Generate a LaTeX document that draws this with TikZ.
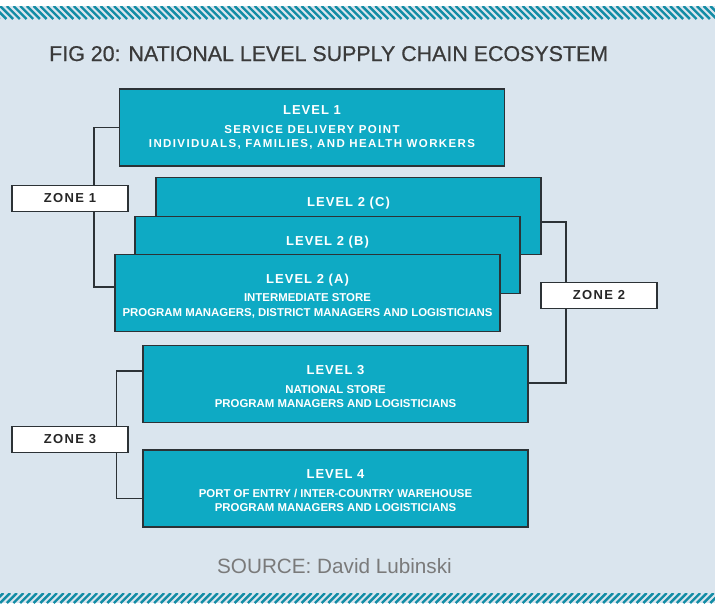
\documentclass[tikz,border=0pt]{standalone}
\usepackage{fontspec}
\setmainfont{Liberation Sans}
\newfontfamily\headfont[LetterSpace=8]{Liberation Sans}
\newfontfamily\widefont[LetterSpace=12]{Liberation Sans}
\newfontfamily\zonefont[LetterSpace=10]{Liberation Sans}
\newfontfamily\titlefont[FakeBold=0.6]{Liberation Sans}
\usetikzlibrary{positioning, calc}

\definecolor{paper}{RGB}{218,229,238}
\definecolor{stripe}{RGB}{18,140,165}
\definecolor{boxcyan}{RGB}{14,170,196}
\definecolor{boxline}{RGB}{44,50,54}
\definecolor{titlegrey}{RGB}{58,58,58}
\definecolor{sourcegrey}{RGB}{122,122,122}

\begin{document}
\begin{tikzpicture}[x=1pt, y=-1pt,
    level/.style={draw=boxline, line width=1.5pt, fill=boxcyan, minimum width=385pt, minimum height=77pt, inner sep=0pt},
    head/.style={text=white, font=\headfont\bfseries\fontsize{13}{15}\selectfont, inner sep=0pt, anchor=base},
    detail/.style={text=white, font=\bfseries\fontsize{11.4}{14.5}\selectfont, align=center, inner sep=0pt},
    zone/.style={draw=boxline, line width=1.4pt, fill=white, minimum width=116pt, minimum height=26pt, inner sep=0pt, text=black!85, font=\zonefont\bfseries\fontsize{13}{15}\selectfont},
    link/.style={draw=boxline, line width=1.5pt},
    stripes/.style={stripe, line width=2.4pt}]

  % background and hatched bands
  \useasboundingbox (0,0) rectangle (715,603);
  \fill[paper] (0,0) rectangle (715,603);
  \fill[white] (0,0) rectangle (715,6);
  \begin{scope}
    \clip (0,6) rectangle (715,19);
    \foreach \x in {-20,-13.3,...,725} \draw[stripes] (\x,6) -- ++(13,13);
  \end{scope}
  \begin{scope}
    \clip (0,593) rectangle (715,603);
    \foreach \x in {-20,-13.3,...,725} \draw[stripes] (\x,603) -- ++(10,-10);
  \end{scope}

  \node[anchor=base west, inner sep=0pt, text=titlegrey, font=\titlefont\fontsize{21.4}{24}\selectfont] (title) at (49,61) {FIG 20: NATIONAL LEVEL SUPPLY CHAIN ECOSYSTEM};

  % levels
  \node[level] (l1) at (312,127.5) {};
  \node[head, below=26.5pt of l1.north, anchor=base] (l1head) {LEVEL 1};
  \node[detail, font=\widefont\bfseries\fontsize{11.5}{13.6}\selectfont, below=11pt of l1head.base] (l1text) {SERVICE DELIVERY POINT\\INDIVIDUALS, FAMILIES, AND HEALTH WORKERS};

  \node[level] (l2c) at (348.5,216) {};
  \node[head, below=29.5pt of l2c.north, anchor=base] (l2chead) {LEVEL 2 (C)};

  \node[level] (l2b) at (327.5,255) {};
  \node[head, below=29.5pt of l2b.north, anchor=base] (l2bhead) {LEVEL 2 (B)};

  \node[level] (l2a) at (307.5,293) {};
  \node[head, below=29.5pt of l2a.north, anchor=base] (l2ahead) {LEVEL 2 (A)};
  \node[detail, below=10.2pt of l2ahead.base] (l2atext) {INTERMEDIATE STORE\\PROGRAM MANAGERS, DISTRICT MANAGERS AND LOGISTICIANS};

  \node[level] (l3) at (335.5,384) {};
  \node[head, below=30pt of l3.north, anchor=base] (l3head) {LEVEL 3};
  \node[detail, below=10.2pt of l3head.base] (l3text) {NATIONAL STORE\\PROGRAM MANAGERS AND LOGISTICIANS};

  \node[level] (l4) at (335.5,488.5) {};
  \node[head, below=29.5pt of l4.north, anchor=base] (l4head) {LEVEL 4};
  \node[detail, below=10.2pt of l4head.base] (l4text) {PORT OF ENTRY / INTER-COUNTRY WAREHOUSE\\PROGRAM MANAGERS AND LOGISTICIANS};

  % zone brackets
  \draw[link] (l1.west) -- ++(-25,0) |- ($(l2a.west)+(0,-6)$);
  \draw[link] ($(l2c.east)+(0,6)$) -- ++(24,0) |- ($(l3.east)+(0,-1)$);
  \draw[link] ($(l3.west)+(0,-13)$) -- ++(-26,0) |- ($(l4.west)+(0,10)$);

  \node[zone] (zone1) at (70,198.5) {ZONE 1};
  \node[zone] (zone2) at (599,295.5) {ZONE 2};
  \node[zone] (zone3) at (70,439.5) {ZONE 3};

  \node[text=sourcegrey, font=\fontsize{20.7}{24}\selectfont, inner sep=0pt, anchor=base] (source) at (334.5,573) {SOURCE: David Lubinski};
\end{tikzpicture}
\end{document}
